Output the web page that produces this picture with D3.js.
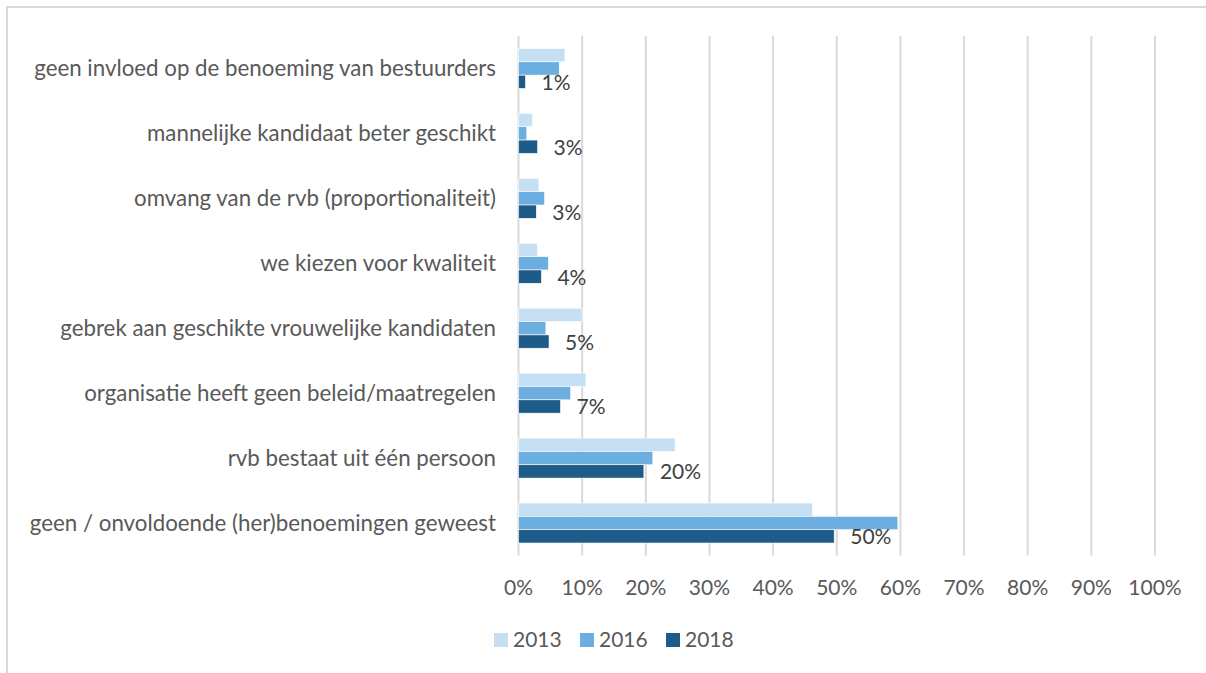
<!DOCTYPE html>
<html>
<head>
<meta charset="utf-8">
<script src="https://cdn.jsdelivr.net/npm/d3@7"></script>
<style>
  html, body { margin: 0; padding: 0; background: #fff; }
  svg { display: block; }
  text { font-family: Lato, "Open Sans", sans-serif; }
</style>
</head>
<body>
<svg id="chart" width="1206" height="673"></svg>
<script>
const categories = [
  "geen invloed op de benoeming van bestuurders",
  "mannelijke kandidaat beter geschikt",
  "omvang van de rvb (proportionaliteit)",
  "we kiezen voor kwaliteit",
  "gebrek aan geschikte vrouwelijke kandidaten",
  "organisatie heeft geen beleid/maatregelen",
  "rvb bestaat uit één persoon",
  "geen / onvoldoende (her)benoemingen geweest"
];
const seriesNames = ["2013", "2016", "2018"];
const values2013 = [7.3, 2.2, 3.2, 3.0, 10.0, 10.6, 24.6, 46.2];
const values2016 = [6.4, 1.3, 4.1, 4.7, 4.3, 8.2, 21.1, 59.6];
const values2018 = [1.1, 3.0, 2.8, 3.6, 4.8, 6.6, 19.7, 49.6];
const tickValues = [0, 10, 20, 30, 40, 50, 60, 70, 80, 90, 100];
const colors = ["#c6e0f3", "#6caee0", "#1f5b89"];

const seriesValues = [values2013, values2016, values2018];

const svg = d3.select("#chart");
const fontSize = 21;
const catFontSize = 22.3;

// outer chart border (only top and left visible)
svg.append("rect")
  .attr("x", 7).attr("y", 7)
  .attr("width", 1220).attr("height", 700)
  .attr("fill", "none").attr("stroke", "#d9d9d9").attr("stroke-width", 2);

const x = d3.scaleLinear().domain([0, 100]).range([518.5, 1155]);
const y = d3.scaleBand().domain(categories).range([36, 555.5])
  .paddingInner(0.384).paddingOuter(0.192);
const ySub = d3.scaleBand().domain(seriesNames).range([0, y.bandwidth()]);

// gridlines
svg.append("g").selectAll("line").data(tickValues).join("line")
  .attr("x1", d => x(d)).attr("x2", d => x(d))
  .attr("y1", 36).attr("y2", 555.5)
  .attr("stroke", "#d9d9d9").attr("stroke-width", 2);

// x tick labels
svg.append("g").selectAll("text").data(tickValues).join("text")
  .attr("x", d => x(d)).attr("y", 595)
  .attr("text-anchor", "middle")
  .attr("fill", "#595959").attr("font-size", fontSize)
  .text(d => d + "%");

// category labels
svg.append("g").selectAll("text").data(categories).join("text")
  .attr("x", 496).attr("y", d => y(d) + y.bandwidth() / 2 + 8)
  .attr("text-anchor", "end")
  .attr("fill", "#595959").attr("font-size", catFontSize)
  .text(d => d);

// bars
const groups = svg.append("g").selectAll("g").data(categories).join("g")
  .attr("transform", d => `translate(0,${y(d)})`);

groups.selectAll("rect")
  .data((d, i) => seriesNames.map((s, k) => ({ s, k, v: seriesValues[k][i] })))
  .join("rect")
  .attr("x", x(0))
  .attr("y", d => ySub(d.s))
  .attr("width", d => x(d.v) - x(0))
  .attr("height", ySub.bandwidth())
  .attr("fill", d => colors[d.k])
  .attr("stroke", "#ffffff").attr("stroke-width", 0.6);

// data labels for 2018
svg.append("g").selectAll("text").data(categories).join("text")
  .attr("x", (d, i) => x(values2018[i]) + 16)
  .attr("y", d => y(d) + ySub("2018") + ySub.bandwidth() / 2 + 8)
  .attr("fill", "#404040").attr("font-size", fontSize)
  .text((d, i) => Math.round(values2018[i]) + "%");

// legend
const legendX = [494, 580, 666];
const lg = svg.append("g").selectAll("g").data(seriesNames).join("g")
  .attr("transform", (d, i) => `translate(${legendX[i]},633)`);
lg.append("rect").attr("width", 14).attr("height", 14)
  .attr("fill", (d, i) => colors[i]);
lg.append("text").attr("x", 19).attr("y", 14)
  .attr("fill", "#595959").attr("font-size", fontSize)
  .text(d => d);
</script>
</body>
</html>
